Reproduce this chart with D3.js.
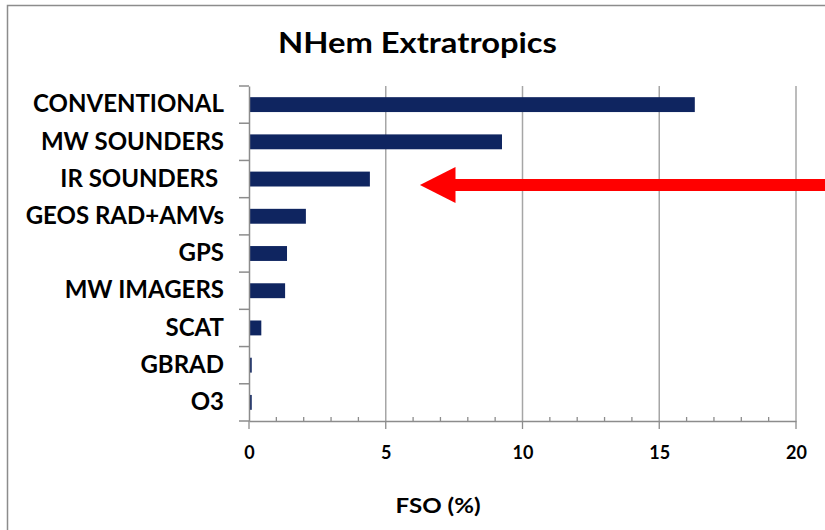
<!DOCTYPE html>
<html>
<head>
  <meta charset="utf-8">
  <title>NHem Extratropics</title>
  <script src="https://d3js.org/d3.v7.min.js"></script>
  <style>
    body { margin: 0; background: #fff; }
    svg { display: block; }
    text { font-family: Lato, "Open Sans", sans-serif; font-weight: bold; fill: #000; }
  </style>
</head>
<body>
  <div id="chart"></div>
  <script>
    // data
    var categories = ["CONVENTIONAL", "MW SOUNDERS", "IR SOUNDERS ", "GEOS RAD+AMVs", "GPS",
                      "MW IMAGERS", "SCAT", "GBRAD", "O3"];
    var fso = [16.3, 9.25, 4.42, 2.08, 1.39, 1.32, 0.45, 0.1, 0.1];
    var xTicks = [0, 5, 10, 15, 20];
    var minorTicks = d3.range(0, 21, 1);
    // red arrow annotation, pointing at IR SOUNDERS (values in FSO units)
    var arrowStart = 21.5, arrowTip = 6.25, arrowHead = 7.55;

    var W = 825, H = 530;
    var margin = {top: 86, right: 29, bottom: 109, left: 249};

    var svg = d3.select("#chart").append("svg")
        .attr("width", W).attr("height", H);

    // grey frame round the chart
    svg.append("rect")
        .attr("x", 7.5).attr("y", 5.5)
        .attr("width", W + 20).attr("height", H + 20)
        .attr("fill", "none").attr("stroke", "#8c8c8c").attr("stroke-width", 1.5);

    var x = d3.scaleLinear().domain([0, 20]).range([margin.left, W - margin.right]);
    var y = d3.scaleBand().domain(categories)
        .range([margin.top, H - margin.bottom])
        .paddingInner(0.6).paddingOuter(0.3);

    var axisY = H - margin.bottom;

    // vertical gridlines
    svg.append("g").selectAll("line")
      .data(xTicks.slice(1))
      .enter().append("line")
        .attr("x1", function(d) { return x(d); })
        .attr("x2", function(d) { return x(d); })
        .attr("y1", margin.top).attr("y2", axisY)
        .attr("stroke", "#a6a6a6").attr("stroke-width", 1.5);

    // minor ticks point up, major ticks hang below the axis
    svg.append("g").selectAll("line")
      .data(minorTicks)
      .enter().append("line")
        .attr("x1", function(d) { return x(d); })
        .attr("x2", function(d) { return x(d); })
        .attr("y1", function(d) { return d % 5 === 0 ? axisY : axisY - 4; })
        .attr("y2", function(d) { return d % 5 === 0 ? axisY + 8 : axisY; })
        .attr("stroke", "#8c8c8c").attr("stroke-width", 1.3);

    var xAxis = svg.append("g")
        .attr("transform", "translate(0," + axisY + ")")
        .call(d3.axisBottom(x).tickValues(xTicks).tickSize(0).tickPadding(25));
    xAxis.select(".domain").attr("stroke", "#8c8c8c").attr("stroke-width", 1.5);
    xAxis.selectAll("text").attr("font-size", 18).style("font-family", "Lato, sans-serif");

    // bars
    svg.append("g").selectAll("rect")
      .data(categories)
      .enter().append("rect")
        .attr("x", x(0))
        .attr("y", function(d) { return y(d); })
        .attr("width", function(d, i) { return x(fso[i]) - x(0); })
        .attr("height", y.bandwidth())
        .attr("fill", "#0f2560");

    // category axis with ticks at band edges
    var yAxis = svg.append("g")
        .attr("transform", "translate(" + margin.left + ",0)")
        .call(d3.axisLeft(y).tickSize(0).tickPadding(25));
    yAxis.select(".domain").attr("stroke", "#8c8c8c").attr("stroke-width", 1.5);
    yAxis.selectAll("text").attr("font-size", 24).style("white-space", "pre");

    var edges = categories.map(function(d) { return y(d) - y.step() * y.paddingInner() / 2; });
    edges.push(axisY);
    svg.append("g").selectAll("line")
      .data(edges)
      .enter().append("line")
        .attr("x1", margin.left - 10).attr("x2", margin.left)
        .attr("y1", function(d) { return d; }).attr("y2", function(d) { return d; })
        .attr("stroke", "#8c8c8c").attr("stroke-width", 1.5);

    // title and axis label
    svg.append("text")
        .attr("x", 417.5).attr("y", 53)
        .attr("text-anchor", "middle")
        .attr("font-size", 29)
        .attr("textLength", 279).attr("lengthAdjust", "spacingAndGlyphs")
        .text("NHem Extratropics");

    svg.append("text")
        .attr("x", 438).attr("y", 513)
        .attr("text-anchor", "middle")
        .attr("font-size", 21)
        .attr("textLength", 85).attr("lengthAdjust", "spacingAndGlyphs")
        .text("FSO (%)");

    // red arrow
    var ay = y("IR SOUNDERS ") + y.bandwidth() / 2 + 6;
    svg.append("line")
        .attr("x1", x(arrowStart)).attr("x2", x(arrowHead) - 1)
        .attr("y1", ay).attr("y2", ay)
        .attr("stroke", "#ff0000").attr("stroke-width", 12);
    svg.append("path")
        .attr("d", d3.line()([[x(arrowTip), ay], [x(arrowHead), ay - 18], [x(arrowHead), ay + 18]]) + "Z")
        .attr("fill", "#ff0000");
  </script>
</body>
</html>
